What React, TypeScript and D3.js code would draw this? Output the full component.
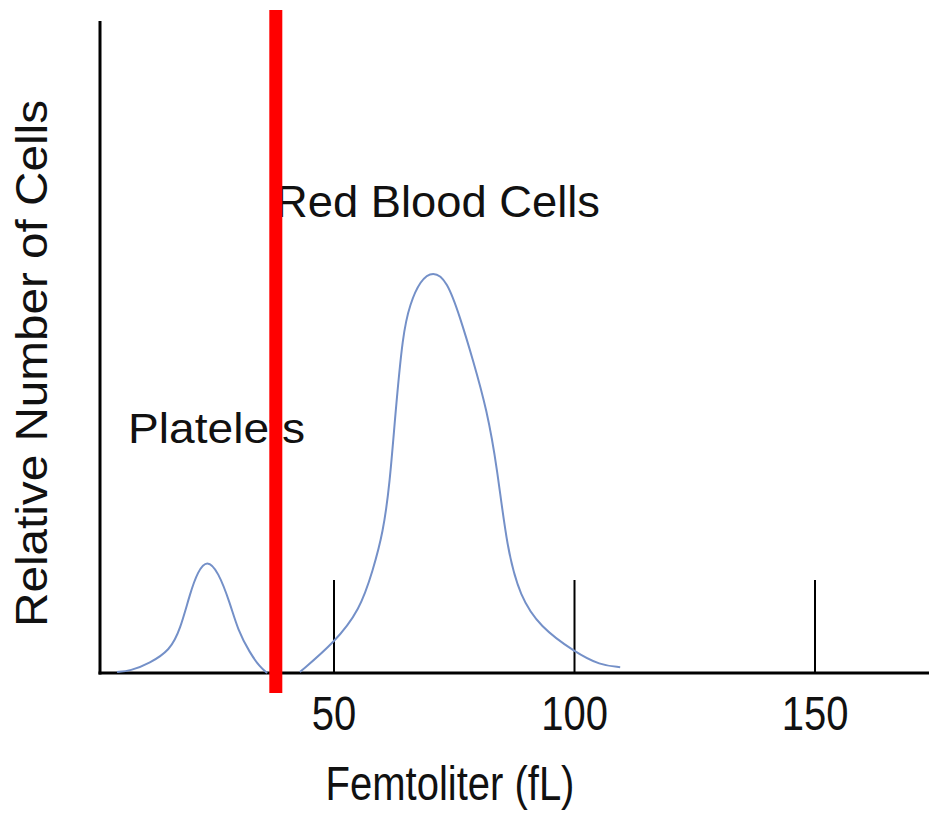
import React from "react";
import * as d3 from "d3";

// Platelet size distribution (fL, relative count)
const plateletX = [4.9, 7.6, 11.7, 15.9, 18.0, 20.1, 21.7, 23.6, 25.9, 28.4, 30.0, 32.5, 34.6, 36.1];
const plateletY = [0.15, 0.3, 1.5, 3.5, 6.6, 12.3, 15.6, 17.4, 15.6, 10.7, 6.6, 3.1, 0.9, 0];

// Red blood cell size distribution (fL, relative count)
const rbcX = [42.9, 50.0, 55.4, 58.1, 60.2, 61.6, 62.7, 64.3, 65.8, 67.9, 70.6, 73.5, 76.2, 78.9, 81.8, 83.9, 86.0, 88.7, 92.8, 100.1, 105.3, 109.5];
const rbcY = [0.15, 4.6, 9.7, 15.8, 21.5, 29.1, 39.3, 52.1, 56.6, 60.2, 61.7, 60.2, 54.6, 48.0, 40.3, 31.6, 18.9, 11.7, 7.1, 3.2, 1.2, 0.9];

const tickValues = [50, 100, 150];
const tickLabels = ["50", "100", "150"];
const cutoffX = 37.9;
const xDomain = [1.35, 173.7];
const yDomain = [0, 100];

const W = 929;
const H = 819;

export default function App() {
  const x = d3.scaleLinear().domain(xDomain).range([100, 929]);
  const y = d3.scaleLinear().domain(yDomain).range([673, 21]);
  const line = d3
    .line<[number, number]>()
    .x((d) => x(d[0]))
    .y((d) => y(d[1]))
    .curve(d3.curveBasis);

  const platelets = plateletX.map((v, i) => [v, plateletY[i]] as [number, number]);
  const rbc = rbcX.map((v, i) => [v, rbcY[i]] as [number, number]);
  const font = "'Liberation Sans', Arial, sans-serif";
  const curveColor = "#7490c8";

  return (
    <svg
      width={W}
      height={H}
      style={{ position: "absolute", left: 0, top: 0, background: "#fff" }}
      fontFamily={font}
    >
      {/* axes */}
      <line x1={x(xDomain[0])} x2={x(xDomain[0])} y1={y(yDomain[1])} y2={y(0) + 1.5} stroke="#000" strokeWidth={3} />
      <line x1={x(xDomain[0]) - 1.5} x2={x(xDomain[1])} y1={y(0)} y2={y(0)} stroke="#000" strokeWidth={3} />
      {tickValues.map((t, i) => (
        <g key={t}>
          <line x1={x(t)} x2={x(t)} y1={580} y2={y(0)} stroke="#000" strokeWidth={2} />
          <text
            transform={`translate(${x(t)},730) scale(1,1.2)`}
            textAnchor="middle"
            fontSize={40}
            fill="#111"
          >
            {tickLabels[i]}
          </text>
        </g>
      ))}
      <text transform="translate(450,800) scale(1,1.2)" textAnchor="middle" fontSize={40} fill="#111">
        Femtoliter (fL)
      </text>
      <text
        transform="translate(47,363.5) rotate(-90)"
        textAnchor="middle"
        fontSize={44}
        textLength={527}
        lengthAdjust="spacingAndGlyphs"
        fill="#111"
      >
        Relative Number of Cells
      </text>

      {/* curves */}
      <path d={line(platelets) || ""} fill="none" stroke={curveColor} strokeWidth={2} />
      <path d={line(rbc) || ""} fill="none" stroke={curveColor} strokeWidth={2} />

      {/* annotations */}
      <text x={128} y={443} fontSize={42} textLength={177} lengthAdjust="spacingAndGlyphs" fill="#111">
        Platelets
      </text>
      <text x={275} y={217} fontSize={45} textLength={325} lengthAdjust="spacingAndGlyphs" fill="#111">
        Red Blood Cells
      </text>

      {/* cutoff line */}
      <line x1={x(cutoffX)} x2={x(cutoffX)} y1={10} y2={693} stroke="#ff0000" strokeWidth={13} />
    </svg>
  );
}
